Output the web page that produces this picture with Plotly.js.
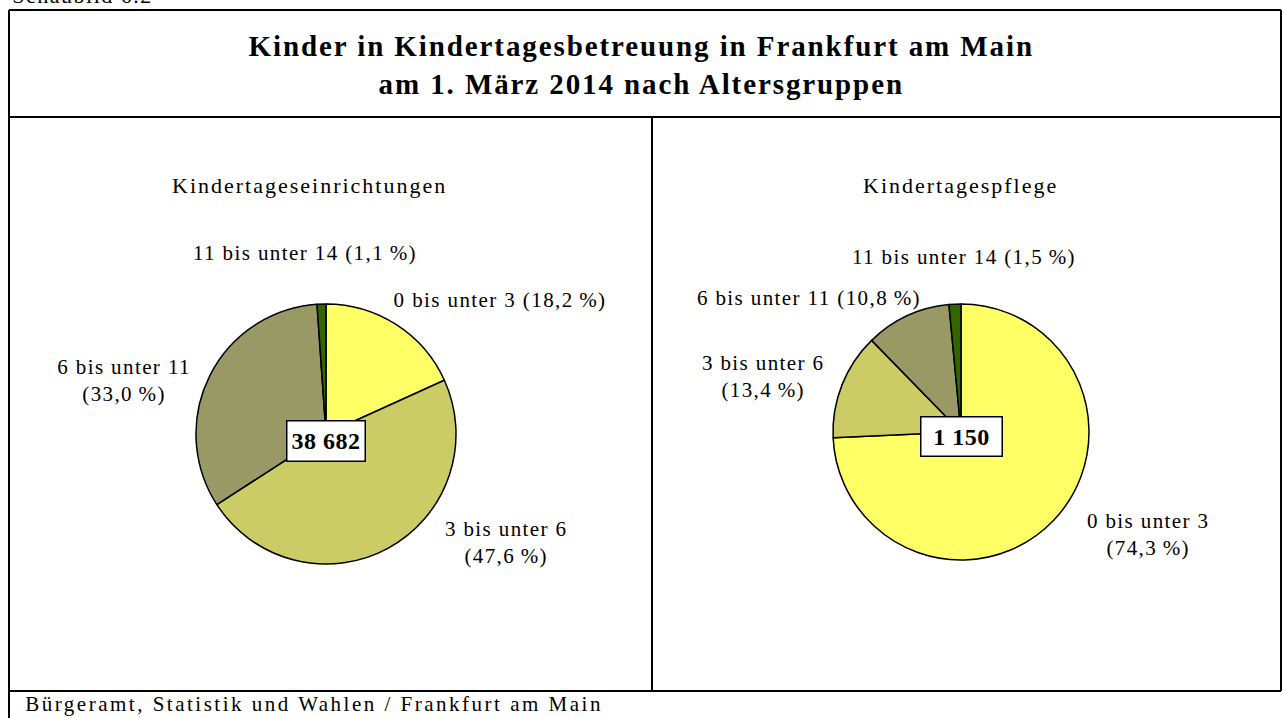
<!DOCTYPE html>
<html><head><meta charset="utf-8">
<script src="https://cdn.plot.ly/plotly-3.0.1.min.js"></script>
<style>html,body{margin:0;padding:0;background:#fff}#chart{width:1282px;height:718px}</style>
</head><body><div id="chart"></div>
<script>
// ---- data ----
const categories = ["0 bis unter 3", "3 bis unter 6", "6 bis unter 11", "11 bis unter 14"];
const einrichtungenShare = [18.2, 47.6, 33.0, 1.1];
const pflegeShare = [74.3, 13.4, 10.8, 1.5];
const einrichtungenTotal = "38 682";
const pflegeTotal = "1 150";
const panelTitles = ["Kindertageseinrichtungen", "Kindertagespflege"];
const chartTitle = ["Kinder in Kindertagesbetreuung in Frankfurt am Main", "am 1. März 2014 nach Altersgruppen"];
const sourceText = "Bürgeramt, Statistik und Wahlen / Frankfurt am Main";
const figureNo = "Schaubild 6.2";
const sliceColors = ["#FFFF66", "#CCCC66", "#999966", "#336600"];

const W = 1282, H = 718;
const px = x => x / W;
const py = y => 1 - y / H;
const fmt = v => v.toFixed(1).replace(".", ",") + "\u2009%";
const serif = "Liberation Serif, Times New Roman, serif";

function pie(values, cx, cy, r) {
  return {
    type: "pie", values: values, labels: categories, sort: false,
    direction: "clockwise", rotation: 0, textinfo: "none", hoverinfo: "label+percent",
    marker: {colors: sliceColors, line: {color: "#000", width: 1.5}},
    domain: {x: [px(cx - r), px(cx + r)], y: [py(cy + r), py(cy - r)]},
    showlegend: false
  };
}

const data = [pie(einrichtungenShare, 326, 434, 130), pie(pflegeShare, 961, 432, 128)];

const spacing = [];
function ann(text, x, y, size, sp, extra) {
  spacing.push(sp);
  return Object.assign({text: text, x: px(x), y: py(y), xref: "paper", yref: "paper", showarrow: false,
    xanchor: "center", yanchor: "middle", align: "center",
    font: {family: serif, size: size, color: "#000"}}, extra || {});
}
const lab = (t, x, y) => ann(t, x, y, 21, 1.4);

const L = einrichtungenShare, R = pflegeShare, C = categories;
const annotations = [
  ann(figureNo, 82, -5, 22, 1.5),
  ann("<b>" + chartTitle[0] + "</b><br><b>" + chartTitle[1] + "</b>", 641, 65, 29, 1.9),
  ann(panelTitles[0], 309, 185, 22, 2.0),
  ann(panelTitles[1], 960, 185, 22, 2.0),
  // left labels
  lab(C[3] + " (" + fmt(L[3]) + ")", 305, 253),
  lab(C[0] + " (" + fmt(L[0]) + ")", 500, 300),
  lab(C[2] + "<br>(" + fmt(L[2]) + ")", 124, 380),
  lab(C[1] + "<br>(" + fmt(L[1]) + ")", 506, 542),
  // right labels
  lab(C[3] + " (" + fmt(R[3]) + ")", 964, 257),
  lab(C[2] + " (" + fmt(R[2]) + ")", 809, 298),
  lab(C[1] + "<br>(" + fmt(R[1]) + ")", 763, 377),
  lab(C[0] + "<br>(" + fmt(R[0]) + ")", 1148, 534),
  // totals
  ann("<b>" + einrichtungenTotal + "</b>", 326, 441, 24, 0.5,
      {bgcolor: "#fff", bordercolor: "#000", borderwidth: 1.5, borderpad: 4, width: 69, height: 31}),
  ann("<b>" + pflegeTotal + "</b>", 961, 436, 24, 0.5,
      {bgcolor: "#fff", bordercolor: "#000", borderwidth: 1.5, borderpad: 4, width: 72, height: 30}),
  ann(sourceText, 314, 704, 21, 2.5)
];

function ln(x0, y0, x1, y1) {
  return {type: "line", xref: "paper", yref: "paper", x0: px(x0), y0: py(y0), x1: px(x1), y1: py(y1),
    line: {color: "#000", width: 2}};
}
const shapes = [
  ln(9, 10, 1281, 10), ln(9, 10, 9, 718), ln(1281, 10, 1281, 691),
  ln(9, 117, 1281, 117), ln(652, 117, 652, 691), ln(9, 691, 1281, 691)
];

const layout = {
  width: W, height: H, margin: {l: 0, r: 0, t: 0, b: 0},
  paper_bgcolor: "#fff", plot_bgcolor: "#fff",
  annotations: annotations, shapes: shapes, showlegend: false
};
Plotly.newPlot("chart", data, layout, {displayModeBar: false, staticPlot: true}).then(gd => {
  spacing.forEach((sp, i) => {
    const t = gd.querySelector('g.annotation[data-index="' + i + '"] text.annotation-text');
    if (t && sp) t.style.letterSpacing = sp + "px";
  });
});
</script></body></html>
